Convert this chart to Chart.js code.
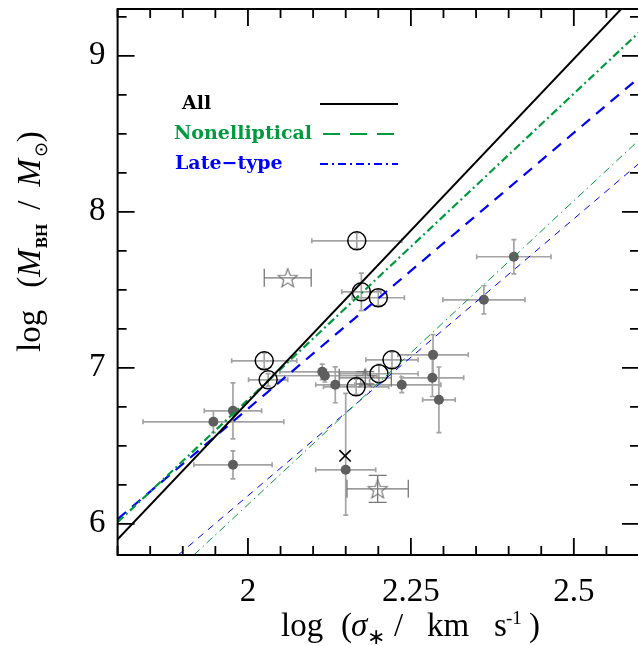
<!DOCTYPE html>
<html><head><meta charset="utf-8">
<script src="https://cdn.jsdelivr.net/npm/chart.js@4.4.1/dist/chart.umd.min.js"></script>
<style>html,body{margin:0;padding:0;overflow:hidden;background:#fff}</style>
</head><body>
<canvas id="c" width="640" height="646"></canvas>
<script>
// ---------- data ----------
const xTickLabels = [2, 2.25, 2.5];
const yTickLabels = [6, 7, 8, 9];

// filled gray galaxies
const dotX    = [2.408, 2.362, 2.284, 2.283, 2.293, 2.236, 2.114, 2.118, 2.134, 1.977, 1.947, 1.977, 2.150];
const dotY    = [7.712, 7.436, 7.083, 6.936, 6.795, 6.891, 6.974, 6.949, 6.891, 6.724, 6.654, 6.378, 6.346];
const dotXerr = [0.057, 0.063, 0.054, 0.048, 0.025, 0.060, 0.065, 0.080, 0.030, 0.044, 0.108, 0.060, 0.046];
const dotYlo  = [0.11, 0.09, 0.13, 0.12, 0.21, 0.05, 0.05, 0.04, 0.115, 0.18, 0.07, 0.09, 0.29];
const dotYhi  = [0.11, 0.09, 0.13, 0.12, 0.21, 0.05, 0.05, 0.04, 0.115, 0.18, 0.07, 0.09, 0.49];

// open circles
const circX    = [2.167, 2.174, 2.200, 2.025, 2.031, 2.166, 2.201, 2.221];
const circY    = [7.814, 7.487, 7.449, 7.045, 6.923, 6.878, 6.962, 7.051];
const circXerr = [0.069, 0.030, 0.040, 0.050, 0.030, 0.050, 0.060, 0.040];
const circYerr = [0.05, 0.12, 0.05, 0.05, 0.04, 0.05, 0.06, 0.05];

// open stars
const starX    = [2.061, 2.180, 2.199];
const starY    = [7.577, 6.936, 6.224];
const starXerr = [0.036, 0.040, 0.047];
const starYerr = [0.0, 0.04, 0.087];

// cross
const crossX = [2.149];
const crossY = [6.436];

// fit lines (end points)
const allX  = [1.8, 2.6],   allY  = [5.90, 9.42];
const nonX  = [1.8, 2.6],   nonY  = [6.01, 9.15];
const lateX = [1.8, 2.6],   lateY = [6.03, 8.86];
const non2X = [1.917, 2.6], non2Y = [5.80, 8.46];
const late2X= [1.893, 2.6], late2Y= [5.80, 8.31];

// ---------- helpers ----------
const pts = (xs, ys) => xs.map((v, i) => ({x: v, y: ys[i]}));
const GREEN = '#009a3e', BLUE = '#0000ff';

function makeStar(R, r, color, lw) {
  const size = Math.ceil(2 * R + 4);
  const c = document.createElement('canvas');
  c.width = c.height = size;
  const g = c.getContext('2d');
  g.translate(size / 2, size / 2 + R * 0.09);
  g.beginPath();
  for (let i = 0; i < 10; i++) {
    const rad = i % 2 ? r : R;
    const a = -Math.PI / 2 + i * Math.PI / 5;
    g.lineTo(rad * Math.cos(a), rad * Math.sin(a));
  }
  g.closePath();
  g.strokeStyle = color; g.lineWidth = lw; g.stroke();
  return c;
}
const starImg = makeStar(10, 4.2, '#707070', 1.1);

const lineDs = (xs, ys, color, w, dash) => ({
  type: 'scatter', showLine: true, data: pts(xs, ys), borderColor: color,
  borderWidth: w, borderDash: dash, pointRadius: 0, fill: false, order: 0
});

// ---------- plugins ----------
const errBars = {
  id: 'errBars',
  beforeDatasetsDraw(chart) {
    const {ctx, chartArea: a, scales: {x, y}} = chart;
    ctx.save();
    ctx.beginPath(); ctx.rect(a.left, a.top, a.right - a.left, a.bottom - a.top); ctx.clip();
    function draw(xs, ys, xe, ylo, yhi, color, lw, cap) {
      ctx.strokeStyle = color; ctx.lineWidth = lw;
      ctx.beginPath();
      for (let i = 0; i < xs.length; i++) {
        const px = x.getPixelForValue(xs[i]), py = y.getPixelForValue(ys[i]);
        if (xe[i] > 0) {
          const x1 = x.getPixelForValue(xs[i] - xe[i]), x2 = x.getPixelForValue(xs[i] + xe[i]);
          ctx.moveTo(x1, py); ctx.lineTo(x2, py);
          ctx.moveTo(x1, py - cap); ctx.lineTo(x1, py + cap);
          ctx.moveTo(x2, py - cap); ctx.lineTo(x2, py + cap);
        }
        if (ylo[i] > 0 || yhi[i] > 0) {
          const y1 = y.getPixelForValue(ys[i] - ylo[i]), y2 = y.getPixelForValue(ys[i] + yhi[i]);
          ctx.moveTo(px, y1); ctx.lineTo(px, y2);
          ctx.moveTo(px - cap, y1); ctx.lineTo(px + cap, y1);
          ctx.moveTo(px - cap, y2); ctx.lineTo(px + cap, y2);
        }
      }
      ctx.stroke();
    }
    draw(dotX, dotY, dotXerr, dotYlo, dotYhi, '#a4a4a4', 1.7, 2.5);
    draw(circX, circY, circXerr, circYerr, circYerr, '#a4a4a4', 1.7, 2.5);
    draw(starX, starY, starXerr, starYerr, starYerr, '#777777', 1.3, 9);
    ctx.restore();
  }
};

const frame = {
  id: 'frame',
  afterDraw(chart) {
    const {ctx, chartArea: a, scales: {x, y}} = chart;
    ctx.save();
    ctx.strokeStyle = '#000';
    ctx.lineWidth = 1.8;
    ctx.beginPath();
    for (let k = 0; k <= 16; k++) {
      const v = 1.8 + k * 0.05;
      const major = Math.abs(v / 0.25 - Math.round(v / 0.25)) < 1e-6;
      const L = major ? 17 : 9;
      const px = x.getPixelForValue(v);
      ctx.moveTo(px, a.bottom); ctx.lineTo(px, a.bottom - L);
      ctx.moveTo(px, a.top); ctx.lineTo(px, a.top + L);
    }
    for (let k = 0; k <= 13; k++) {
      const v = 6 + k * 0.25;
      if (v > 9.3) break;
      const major = Math.abs(v - Math.round(v)) < 1e-6;
      const L = major ? 17 : 9;
      const py = y.getPixelForValue(v);
      ctx.moveTo(a.left, py); ctx.lineTo(a.left + L, py);
      ctx.moveTo(a.right, py); ctx.lineTo(a.right - L, py);
    }
    ctx.stroke();
    ctx.lineWidth = 2;
    ctx.strokeRect(a.left, a.top, a.right - a.left, a.bottom - a.top);

    // legend
    ctx.font = 'bold 19px "DejaVu Serif"';
    ctx.textBaseline = 'middle';
    ctx.textAlign = 'left';
    const leg = [
      ['All', '#000', 182, 104, [], 2, 320],
      ['Nonelliptical', GREEN, 174, 134, [17, 10], 2, 323],
      ['Late\u2212type', BLUE, 175, 164, [8, 4, 2, 4], 2, 320]
    ];
    leg.forEach(([t, c, tx, ty, dash, w, lx]) => {
      ctx.fillStyle = c; ctx.fillText(t, tx, ty);
      ctx.strokeStyle = c; ctx.lineWidth = w; ctx.setLineDash(dash);
      ctx.beginPath(); ctx.moveTo(lx, ty); ctx.lineTo(398, ty); ctx.stroke();
    });
    ctx.setLineDash([]);

    // x title
    ctx.fillStyle = '#000';
    ctx.textBaseline = 'alphabetic';
    const serif = s => s + 'px "Liberation Serif"';
    const xb = 636;
    const xt = [
      ['log', serif(33), 281, 0], ['(', serif(33), 341, 0], ['\u03c3', 'italic ' + serif(33), 351, 0],
      ['\u2217', serif(22), 367, 8], ['/', serif(33), 394, 0], ['km', serif(33), 427, 0],
      ['s', serif(33), 494, 0], ['-1', serif(19), 506, -12], [')', serif(33), 529, 0]
    ];
    xt.forEach(([t, f, px, dy]) => { ctx.font = f; ctx.fillText(t, px, xb + dy); });

    // y title (rotated)
    ctx.save();
    ctx.translate(40, 352);
    ctx.rotate(-Math.PI / 2);
    let cx = 0;
    const yt = [
      ['log', serif(33), 0, 22], ['(', serif(33), 0, 0], ['M', 'italic ' + serif(33), 0, 1],
      ['BH', 'bold ' + serif(17), 7, 14], ['/', serif(33), 0, 14], ['M', 'italic ' + serif(33), 0, 2],
      ['\u2299', serif(18), 7, 0], [')', serif(33), 0, 0]
    ];
    yt.forEach(([t, f, dy, gap]) => {
      ctx.font = f; ctx.fillText(t, cx, dy);
      cx += ctx.measureText(t).width + gap;
    });
    ctx.restore();
    ctx.restore();
  }
};

const noPad = s => { s.paddingTop = 0; s.paddingBottom = 0; s.paddingLeft = 0; s.paddingRight = 0; };

// ---------- chart ----------
new Chart(document.getElementById('c'), {
  type: 'scatter',
  data: {
    datasets: [
      lineDs(allX, allY, '#000', 2, []),
      lineDs(nonX, nonY, GREEN, 2.2, [8, 3.5, 2, 3.5]),
      lineDs(lateX, lateY, BLUE, 2.2, [11, 8]),
      lineDs(non2X, non2Y, GREEN, 1, [8, 4, 1.5, 4]),
      lineDs(late2X, late2Y, BLUE, 1, [7, 6]),
      { data: pts(dotX, dotY), pointRadius: 5, backgroundColor: '#5e5e5e', borderWidth: 0, order: 1 },
      { data: pts(circX, circY), pointRadius: 9, backgroundColor: 'rgba(0,0,0,0)', borderColor: '#000', borderWidth: 1.5, order: 1 },
      { data: pts(starX, starY), pointStyle: starImg, pointRadius: 10, order: 1 },
      { data: pts(crossX, crossY), pointStyle: 'crossRot', pointRadius: 8, borderColor: '#000', borderWidth: 1.6, order: 1 }
    ]
  },
  options: {
    responsive: false, animation: false,
    layout: { padding: { top: 9, right: 1, left: 0, bottom: 0 }, autoPadding: false },
    plugins: { legend: { display: false }, tooltip: { enabled: false } },
    scales: {
      x: {
        type: 'linear', min: 1.8, max: 2.6,
        grid: { display: false, drawTicks: false }, border: { display: false },
        afterBuildTicks: s => { s.ticks = xTickLabels.map(v => ({ value: v })); },
        afterFit: s => { s.height = 91; noPad(s); },
        ticks: { font: { family: 'Liberation Serif', size: 33 }, color: '#000', padding: 18,
                 maxRotation: 0, autoSkip: false, callback: v => String(v) }
      },
      y: {
        type: 'linear', min: 5.8, max: 9.3,
        grid: { display: false, drawTicks: false }, border: { display: false },
        afterBuildTicks: s => { s.ticks = yTickLabels.map(v => ({ value: v })); },
        afterFit: s => { s.width = 117.6; noPad(s); },
        ticks: { font: { family: 'Liberation Serif', size: 33 }, color: '#000', padding: 12,
                 autoSkip: false, callback: v => String(v) }
      }
    }
  },
  plugins: [errBars, frame]
});
</script>
</body></html>
